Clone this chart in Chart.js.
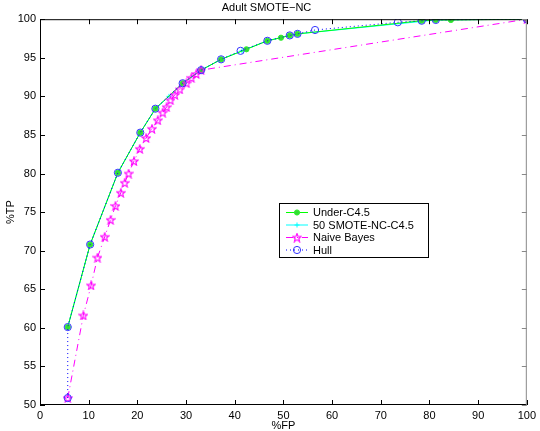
<!DOCTYPE html>
<html>
<head>
<meta charset="utf-8">
<script src="https://cdn.jsdelivr.net/npm/chart.js@4/dist/chart.umd.min.js"></script>
<style>
  html, body { margin: 0; padding: 0; background: #fff; }
</style>
</head>
<body>
<canvas id="rocChart" width="540" height="431"></canvas>
<script>
// ROC points (%FP, %TP)
const underFP = [5.7, 10.3, 16.0, 20.6, 23.7, 29.3, 33.1, 37.2, 42.4, 46.7, 49.5, 51.3, 52.9, 78.4, 81.3, 84.4, 100];
const underTP = [60.1, 70.8, 80.1, 85.3, 88.4, 91.7, 93.4, 94.8, 96.1, 97.2, 97.6, 97.9, 98.1, 99.8, 99.9, 99.9, 100];

const smoteFP = [5.7, 10.3, 16.0, 20.6, 23.7, 26.5, 29.3, 33.1, 37.2, 41.5, 46.7, 51.3, 53.0, 78.2, 81.3, 100];
const smoteTP = [60.1, 70.8, 80.1, 85.3, 88.4, 90.0, 91.7, 93.4, 94.8, 95.9, 97.2, 97.9, 98.1, 99.7, 99.9, 100];

const nbFP = [5.7, 8.9, 10.5, 11.8, 13.3, 14.5, 15.5, 16.6, 17.4, 18.2, 19.3, 20.5, 21.8, 23.0, 24.2, 25.2, 26.0, 26.8, 27.7, 28.7, 30.1, 31.1, 32.1, 33.1, 100];
const nbTP = [50.9, 61.6, 65.5, 69.1, 71.8, 74.0, 75.8, 77.5, 78.8, 80.0, 81.6, 83.2, 84.6, 85.8, 86.9, 87.9, 88.6, 89.5, 90.2, 90.9, 91.7, 92.4, 92.9, 93.4, 100];

const hullFP = [5.7, 5.7, 10.3, 16.0, 20.6, 23.7, 29.3, 33.1, 37.2, 41.2, 46.7, 51.3, 52.9, 56.5, 73.5, 78.4, 81.3, 100];
const hullTP = [50.9, 60.1, 70.8, 80.1, 85.3, 88.4, 91.7, 93.4, 94.8, 95.9, 97.2, 97.9, 98.1, 98.6, 99.6, 99.8, 99.9, 100];

const seriesNames = ['Under-C4.5', '50 SMOTE-NC-C4.5', 'Naive Bayes', 'Hull'];
const xTicks = [0, 10, 20, 30, 40, 50, 60, 70, 80, 90, 100];
const yTicks = [50, 55, 60, 65, 70, 75, 80, 85, 90, 95, 100];

const FONT = 'Liberation Sans, Arial, Helvetica, sans-serif';

function toPoints(xs, ys) {
    return xs.map((x, i) => ({ x: x, y: ys[i] }));
}

// five-point magenta star marker
function makeStar(color) {
    const c = document.createElement('canvas');
    c.width = 10; c.height = 10;
    const g = c.getContext('2d');
    g.strokeStyle = color;
    g.lineWidth = 1.1;
    g.beginPath();
    for (let i = 0; i < 10; i++) {
        const r = i % 2 === 0 ? 4.4 : 1.9;
        const a = -Math.PI / 2 + i * Math.PI / 5;
        const px = 5 + r * Math.cos(a), py = 5.4 + r * Math.sin(a);
        if (i === 0) g.moveTo(px, py); else g.lineTo(px, py);
    }
    g.closePath();
    g.stroke();
    return c;
}
const starImg = makeStar('#ff00ff');

// MATLAB-like box with inward ticks on all four sides
const boxPlugin = {
    id: 'boxTicks',
    afterDatasetsDraw(chart) {
        const { ctx, chartArea: a, scales } = chart;
        ctx.save();
        ctx.lineWidth = 1;
        ctx.strokeStyle = '#000';
        ctx.beginPath();
        ctx.moveTo(a.left + 0.5, a.top + 0.5);
        ctx.lineTo(a.right - 0.5, a.top + 0.5);
        ctx.moveTo(a.left + 0.5, a.top);
        ctx.lineTo(a.left + 0.5, a.bottom - 0.5);
        ctx.lineTo(a.right, a.bottom - 0.5);
        xTicks.forEach(v => {
            const px = Math.round(scales.x.getPixelForValue(v)) + 0.5;
            ctx.moveTo(px, a.bottom); ctx.lineTo(px, a.bottom - 5);
            ctx.moveTo(px, a.top); ctx.lineTo(px, a.top + 5);
        });
        yTicks.forEach(v => {
            const py = Math.round(scales.y.getPixelForValue(v)) + 0.5;
            ctx.moveTo(a.left, py); ctx.lineTo(a.left + 5, py);
        });
        ctx.stroke();
        ctx.strokeStyle = '#888';
        ctx.beginPath();
        ctx.moveTo(a.right - 0.5, a.top);
        ctx.lineTo(a.right - 0.5, a.bottom);
        yTicks.forEach(v => {
            const py = Math.round(scales.y.getPixelForValue(v)) + 0.5;
            ctx.moveTo(a.right, py); ctx.lineTo(a.right - 5, py);
        });
        ctx.stroke();
        ctx.restore();
    }
};

// legend box drawn inside the plot area, in the order the series were named
const legendPlugin = {
    id: 'innerLegend',
    afterDraw(chart) {
        const ctx = chart.ctx;
        const bx = 279.5, by = 203.5, bw = 149, bh = 54;
        ctx.save();
        ctx.fillStyle = '#fff';
        ctx.fillRect(bx, by, bw, bh);
        ctx.strokeStyle = '#000';
        ctx.lineWidth = 1;
        ctx.strokeRect(bx, by, bw, bh);
        ctx.font = '11px ' + FONT;
        ctx.textBaseline = 'middle';
        seriesNames.forEach((name, i) => {
            const ds = chart.data.datasets.find(d => d.label === name);
            const y = 212.5 + i * 12.5;
            ctx.lineWidth = 1;
            ctx.strokeStyle = ds.borderColor;
            ctx.setLineDash(ds.borderDash || []);
            ctx.beginPath();
            ctx.moveTo(286, y); ctx.lineTo(308, y);
            ctx.stroke();
            ctx.setLineDash([]);
            ctx.fillStyle = ds.pointBackgroundColor || ds.backgroundColor;
            ctx.strokeStyle = ds.pointBorderColor || ds.borderColor;
            Chart.helpers.drawPoint(ctx, {
                pointStyle: ds.pointStyle, radius: ds.pointRadius,
                rotation: 0, borderWidth: ds.pointBorderWidth
            }, 297, y);
            ctx.fillStyle = '#000';
            ctx.fillText(name, 313, y + 0.5);
        });
        ctx.restore();
    }
};

// Draw order: first dataset ends up on top
const datasets = [
    {
        label: seriesNames[3],
        data: toPoints(hullFP, hullTP),
        borderColor: '#0000ff',
        backgroundColor: 'rgba(0,0,0,0)',
        pointBackgroundColor: 'rgba(0,0,0,0)',
        borderWidth: 1,
        borderDash: [1, 3],
        pointStyle: 'circle',
        pointRadius: 3.6,
        pointBorderWidth: 1,
        pointBorderColor: '#3333ff'
    },
    {
        label: seriesNames[2],
        data: toPoints(nbFP, nbTP),
        borderColor: '#ff00ff',
        backgroundColor: '#ff00ff',
        borderWidth: 1,
        borderDash: [7, 4, 1, 4],
        pointStyle: starImg,
        pointRadius: 4,
        pointBorderWidth: 1
    },
    {
        label: seriesNames[0],
        data: toPoints(underFP, underTP),
        borderColor: '#00ff00',
        backgroundColor: '#33dd33',
        pointBackgroundColor: '#33dd33',
        borderWidth: 1,
        pointStyle: 'circle',
        pointRadius: 2.6,
        pointBorderWidth: 1,
        pointBorderColor: '#33ee33'
    },
    {
        label: seriesNames[1],
        data: toPoints(smoteFP, smoteTP),
        borderColor: '#00ffff',
        backgroundColor: '#00ffff',
        borderWidth: 1,
        pointStyle: 'cross',
        pointRadius: 2.5,
        pointBorderWidth: 1
    }
];

new Chart(document.getElementById('rocChart').getContext('2d'), {
    type: 'line',
    data: { datasets: datasets },
    options: {
        responsive: false,
        animation: false,
        devicePixelRatio: 1,
        layout: { padding: { left: 0, right: 7, top: 0, bottom: 0 } },
        elements: { line: { tension: 0 } },
        plugins: {
            legend: { display: false },
            tooltip: { enabled: false },
            title: {
                display: true,
                text: 'Adult SMOTE\u2212NC',
                color: '#000',
                font: { family: FONT, size: 11, weight: 'normal' },
                padding: { top: 1, bottom: 5 }
            }
        },
        scales: {
            x: {
                type: 'linear',
                min: 0, max: 100,
                afterFit: s => { s.height = 26; },
                grid: { display: false, drawTicks: false },
                border: { display: false },
                afterBuildTicks: s => { s.ticks = xTicks.map(v => ({ value: v })); },
                ticks: { color: '#000', padding: 4, maxRotation: 0, font: { family: FONT, size: 11 } },
                title: {
                    display: true, text: '%FP', color: '#000',
                    font: { family: FONT, size: 11 }, padding: { top: 0, bottom: -2 }
                }
            },
            y: {
                type: 'linear',
                min: 50, max: 100,
                afterFit: s => { s.width = 40; },
                grid: { display: false, drawTicks: false },
                border: { display: false },
                afterBuildTicks: s => { s.ticks = yTicks.map(v => ({ value: v })); },
                ticks: { color: '#000', padding: 4, font: { family: FONT, size: 11 } },
                title: {
                    display: true, text: '%TP', color: '#000',
                    font: { family: FONT, size: 11 }, padding: { top: 4, bottom: 0 }
                }
            }
        }
    },
    plugins: [boxPlugin, legendPlugin]
});
</script>
</body>
</html>
